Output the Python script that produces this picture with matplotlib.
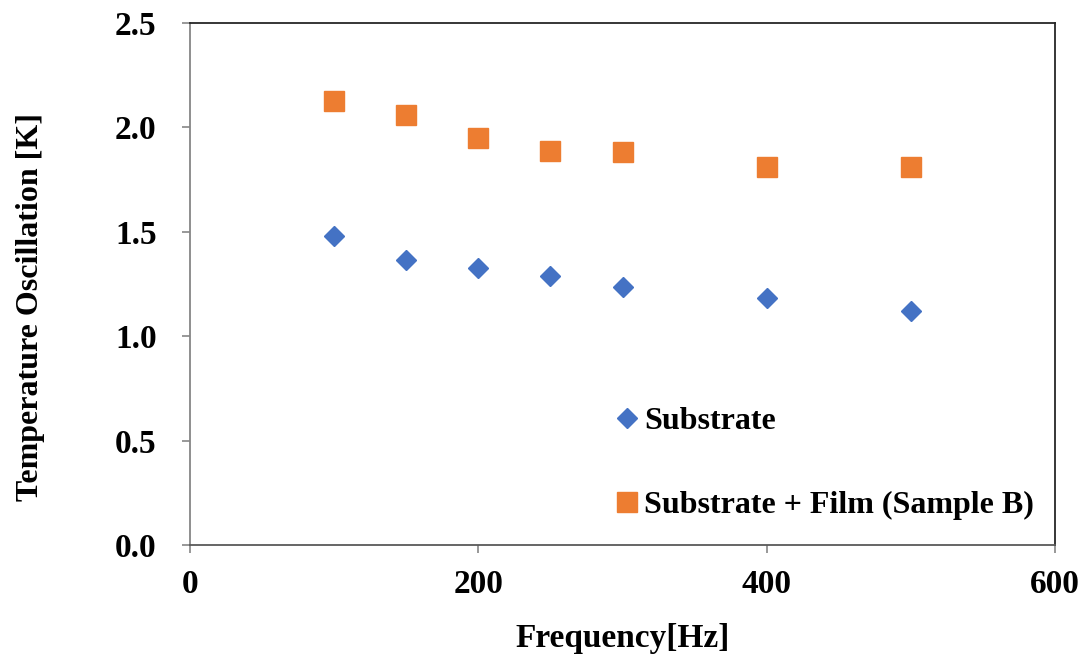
import matplotlib.pyplot as plt

freq = [100, 150, 200, 250, 300, 400, 500]
substrate = [1.48, 1.365, 1.327, 1.288, 1.236, 1.183, 1.121]
film = [2.126, 2.059, 1.949, 1.887, 1.882, 1.81, 1.81]

plt.rcParams['font.family'] = ['Liberation Serif', 'DejaVu Serif']
plt.rcParams['font.weight'] = 'bold'

fig = plt.figure(figsize=(10.87, 6.64), dpi=100)
ax = fig.add_axes([0.1748, 0.1792, 0.7958, 0.7862])

ax.plot(freq, substrate, 'D', color='#4472C4', markersize=10, linestyle='none', label='Substrate')
ax.plot(freq, film, 's', color='#ED7D31', markersize=14, linestyle='none', label='Substrate + Film (Sample B)')

ax.set_xlim(0, 600)
ax.set_ylim(0, 2.5)
ax.set_xticks([0, 200, 400, 600])
ax.set_yticks([0, 0.5, 1.0, 1.5, 2.0, 2.5])
ax.set_yticklabels(['0.0', '0.5', '1.0', '1.5', '2.0', '2.5'])

ax.spines['left'].set_color('#868686')
ax.spines['bottom'].set_color('#595959')
ax.spines['top'].set_color('#262626')
ax.spines['right'].set_color('#262626')
for s in ax.spines.values():
    s.set_linewidth(1.3)

ax.tick_params(direction='out', length=6, width=1.2, color='#868686', labelsize=24)
ax.tick_params(axis='y', pad=18)
ax.tick_params(axis='x', pad=11)
for lab in ax.get_xticklabels() + ax.get_yticklabels():
    lab.set_fontweight('bold')

ax.set_xlabel('Frequency[Hz]', fontsize=24, fontweight='bold', labelpad=17)
ax.set_ylabel('Temperature Oscillation [K]', fontsize=23, fontweight='bold')
ax.yaxis.set_label_coords(-0.168, 0.456)

leg = ax.legend(loc='upper left', bbox_to_anchor=(0.4755, 0.29), frameon=False,
                fontsize=23, handlelength=0.8, handletextpad=0.15, labelspacing=1.72,
                borderaxespad=0)

fig.savefig('out.png', dpi=100)
